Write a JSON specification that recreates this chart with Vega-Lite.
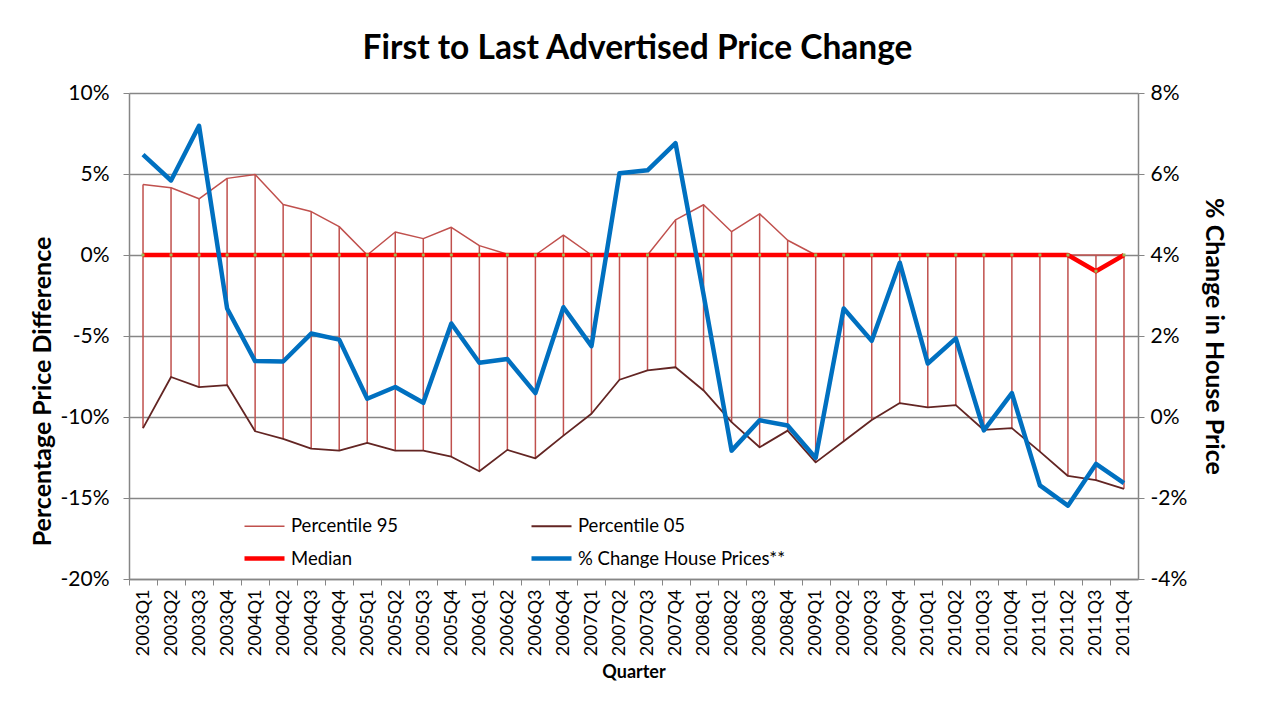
{
  "$schema": "https://vega.github.io/schema/vega-lite/v6.json",
  "width": 1009,
  "height": 486,
  "autosize": {"type": "none"},
  "padding": {"left": 129, "top": 93, "right": 123, "bottom": 128},
  "background": "white",
  "title": {"text": "First to Last Advertised Price Change", "fontSize": 33.5, "font": "Lato", "fontWeight": "bold", "anchor": "middle", "offset": 16, "dx": 4, "color": "#000000"},
  "data": {"values": [
    {"q": "2003Q1", "p95": 4.35, "p05": -10.69, "med": 0, "hp": 6.48},
    {"q": "2003Q2", "p95": 4.15, "p05": -7.53, "med": 0, "hp": 5.84},
    {"q": "2003Q3", "p95": 3.47, "p05": -8.15, "med": 0, "hp": 7.19},
    {"q": "2003Q4", "p95": 4.73, "p05": -8.03, "med": 0, "hp": 2.68},
    {"q": "2004Q1", "p95": 4.97, "p05": -10.88, "med": 0, "hp": 1.38},
    {"q": "2004Q2", "p95": 3.12, "p05": -11.35, "med": 0, "hp": 1.37},
    {"q": "2004Q3", "p95": 2.68, "p05": -11.95, "med": 0, "hp": 2.06},
    {"q": "2004Q4", "p95": 1.75, "p05": -12.07, "med": 0, "hp": 1.91},
    {"q": "2005Q1", "p95": 0.0, "p05": -11.6, "med": 0, "hp": 0.45},
    {"q": "2005Q2", "p95": 1.42, "p05": -12.07, "med": 0, "hp": 0.74},
    {"q": "2005Q3", "p95": 1.01, "p05": -12.07, "med": 0, "hp": 0.35},
    {"q": "2005Q4", "p95": 1.71, "p05": -12.45, "med": 0, "hp": 2.31},
    {"q": "2006Q1", "p95": 0.58, "p05": -13.35, "med": 0, "hp": 1.34},
    {"q": "2006Q2", "p95": 0.05, "p05": -12.03, "med": 0, "hp": 1.43},
    {"q": "2006Q3", "p95": 0.0, "p05": -12.55, "med": 0, "hp": 0.59},
    {"q": "2006Q4", "p95": 1.22, "p05": -11.15, "med": 0, "hp": 2.71},
    {"q": "2007Q1", "p95": 0.0, "p05": -9.8, "med": 0, "hp": 1.75},
    {"q": "2007Q2", "p95": 0.0, "p05": -7.7, "med": 0, "hp": 6.02},
    {"q": "2007Q3", "p95": 0.0, "p05": -7.12, "med": 0, "hp": 6.09},
    {"q": "2007Q4", "p95": 2.17, "p05": -6.93, "med": 0, "hp": 6.76},
    {"q": "2008Q1", "p95": 3.1, "p05": -8.36, "med": 0, "hp": 3.02},
    {"q": "2008Q2", "p95": 1.44, "p05": -10.32, "med": 0, "hp": -0.83},
    {"q": "2008Q3", "p95": 2.54, "p05": -11.87, "med": 0, "hp": -0.08},
    {"q": "2008Q4", "p95": 0.91, "p05": -10.84, "med": 0, "hp": -0.21},
    {"q": "2009Q1", "p95": 0.0, "p05": -12.8, "med": 0, "hp": -1.01},
    {"q": "2009Q2", "p95": 0.0, "p05": -11.5, "med": 0, "hp": 2.68},
    {"q": "2009Q3", "p95": 0.0, "p05": -10.18, "med": 0, "hp": 1.88},
    {"q": "2009Q4", "p95": 0.0, "p05": -9.14, "med": 0, "hp": 3.81},
    {"q": "2010Q1", "p95": 0.0, "p05": -9.41, "med": 0, "hp": 1.32},
    {"q": "2010Q2", "p95": 0.0, "p05": -9.27, "med": 0, "hp": 1.94},
    {"q": "2010Q3", "p95": 0.0, "p05": -10.8, "med": 0, "hp": -0.33},
    {"q": "2010Q4", "p95": 0.0, "p05": -10.69, "med": 0, "hp": 0.59},
    {"q": "2011Q1", "p95": 0.0, "p05": -12.14, "med": 0, "hp": -1.69},
    {"q": "2011Q2", "p95": 0.0, "p05": -13.64, "med": 0, "hp": -2.19},
    {"q": "2011Q3", "p95": 0.0, "p05": -13.89, "med": -1.0, "hp": -1.16},
    {"q": "2011Q4", "p95": 0.0, "p05": -14.43, "med": 0, "hp": -1.63}
  ]},
  "layer": [
    {
      "layer": [
        {
          "mark": {"type": "rule", "color": "#C0504D", "strokeWidth": 1.5},
          "encoding": {
            "x": {"field": "q", "type": "ordinal", "sort": null, "scale": {"type": "point", "padding": 0.5}, "title": "Quarter",
                  "axis": {"labelAngle": -90, "labelFontSize": 18, "tickOffset": -14, "labelOffset": 14, "tickSize": 6, "domainWidth": 1.5, "labelPadding": 4, "titleFontSize": 18, "titleFontWeight": "bold", "titlePadding": 8}},
            "y": {"field": "p95", "type": "quantitative", "scale": {"domain": [-20, 10], "nice": false, "zero": false}, "title": "Percentage Price Difference",
                  "axis": {"values": [-20, -15, -10, -5, 0, 5, 10], "labelExpr": "datum.value + '%'", "grid": true, "gridWidth": 1.3, "domainWidth": 1.5, "tickSize": 6, "labelFontSize": 21, "labelPadding": 14, "titleFontSize": 25, "titleFontWeight": "bold", "titlePadding": 5, "titleY": 298}},
            "y2": {"field": "p05"}
          }
        },
        {
          "transform": [{"fold": ["p95", "p05"], "as": ["series", "value"]}],
          "mark": {"type": "line", "strokeJoin": "round"},
          "encoding": {
            "x": {"field": "q", "type": "ordinal", "sort": null, "scale": {"type": "point", "padding": 0.5}, "title": "Quarter"},
            "y": {"field": "value", "type": "quantitative", "scale": {"domain": [-20, 10], "nice": false, "zero": false}, "title": "Percentage Price Difference"},
            "color": {"field": "series", "type": "nominal", "title": null, "scale": {"domain": ["p95", "p05", "med", "hp"], "range": ["#C0504D", "#632523", "#FF0000", "#0070C0"]},
                      "legend": {"labelExpr": "datum.label == 'p95' ? 'Percentile 95' : datum.label == 'p05' ? 'Percentile 05' : datum.label == 'med' ? 'Median' : '% Change House Prices**'", "direction": "horizontal", "columns": 2}},
            "strokeWidth": {"field": "series", "type": "nominal", "title": null, "scale": {"type": "ordinal", "domain": ["p95", "p05", "med", "hp"], "range": [1.5, 1.8, 4.5, 4.5]},
                      "legend": {"labelExpr": "datum.label == 'p95' ? 'Percentile 95' : datum.label == 'p05' ? 'Percentile 05' : datum.label == 'med' ? 'Median' : '% Change House Prices**'", "direction": "horizontal", "columns": 2}}
          }
        },
        {
          "transform": [{"fold": ["med"], "as": ["series", "value"]}],
          "mark": {"type": "line", "strokeJoin": "round"},
          "encoding": {
            "x": {"field": "q", "type": "ordinal", "sort": null, "scale": {"type": "point", "padding": 0.5}, "title": "Quarter"},
            "y": {"field": "value", "type": "quantitative", "scale": {"domain": [-20, 10], "nice": false, "zero": false}, "title": "Percentage Price Difference"},
            "color": {"field": "series", "type": "nominal", "title": null, "scale": {"domain": ["p95", "p05", "med", "hp"], "range": ["#C0504D", "#632523", "#FF0000", "#0070C0"]}},
            "strokeWidth": {"field": "series", "type": "nominal", "title": null, "scale": {"type": "ordinal", "domain": ["p95", "p05", "med", "hp"], "range": [1.5, 1.8, 4.5, 4.5]}}
          }
        },
        {
          "mark": {"type": "square", "color": "#9BBB59", "size": 9, "opacity": 1, "filled": true},
          "encoding": {
            "x": {"field": "q", "type": "ordinal", "sort": null, "scale": {"type": "point", "padding": 0.5}, "title": "Quarter"},
            "y": {"field": "med", "type": "quantitative", "scale": {"domain": [-20, 10], "nice": false, "zero": false}, "title": "Percentage Price Difference"}
          }
        }
      ]
    },
    {
      "transform": [{"fold": ["hp"], "as": ["series", "value"]}],
      "mark": {"type": "line", "strokeJoin": "round"},
      "encoding": {
        "x": {"field": "q", "type": "ordinal", "sort": null, "scale": {"type": "point", "padding": 0.5}, "title": "Quarter"},
        "y": {"field": "value", "type": "quantitative", "scale": {"domain": [-4, 8], "nice": false, "zero": false}, "title": "% Change in House Price",
              "axis": {"orient": "right", "values": [-4, -2, 0, 2, 4, 6, 8], "labelExpr": "datum.value + '%'", "grid": false, "domainWidth": 1.5, "tickSize": 6, "labelFontSize": 21, "labelPadding": 6, "titleFontSize": 25, "titleFontWeight": "bold", "titlePadding": 14}},
        "color": {"field": "series", "type": "nominal", "title": null, "scale": {"domain": ["p95", "p05", "med", "hp"], "range": ["#C0504D", "#632523", "#FF0000", "#0070C0"]}},
        "strokeWidth": {"field": "series", "type": "nominal", "title": null, "scale": {"type": "ordinal", "domain": ["p95", "p05", "med", "hp"], "range": [1.5, 1.8, 4.5, 4.5]}}
      }
    }
  ],
  "resolve": {"scale": {"y": "independent"}, "axis": {"y": "independent"}},
  "config": {
    "font": "Lato",
    "view": {"stroke": null},
    "axis": {"domainColor": "#868686", "tickColor": "#868686", "gridColor": "#868686", "labelColor": "#000000", "titleColor": "#000000", "labelFont": "Lato", "titleFont": "Lato"},
    "legend": {
      "orient": "none", "legendX": 113, "legendY": 412, "columns": 2, "direction": "horizontal", "columnPadding": 123, "rowPadding": -12,
      "symbolType": "stroke", "symbolSize": 1600, "labelFontSize": 18.5, "labelFont": "Lato", "labelColor": "#000000", "labelOffset": 4, "labelLimit": 400, "padding": 0
    }
  }
}
